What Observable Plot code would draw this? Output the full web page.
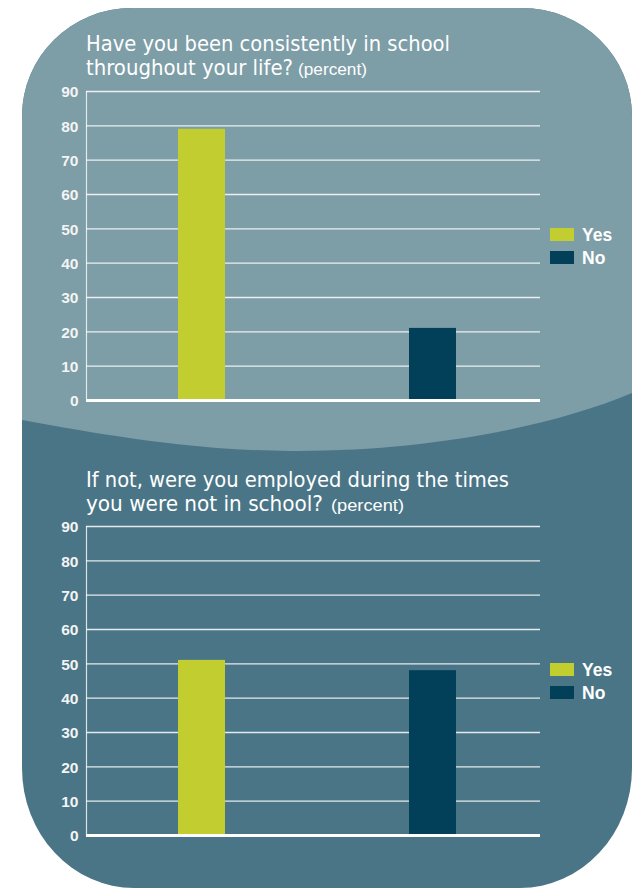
<!DOCTYPE html>
<html>
<head>
<meta charset="utf-8">
<script src="https://cdn.jsdelivr.net/npm/d3@7"></script>
<script src="https://cdn.jsdelivr.net/npm/@observablehq/plot@0.6"></script>
<style>
  html, body { margin: 0; padding: 0; background: #ffffff; }
  #wrap { position: relative; width: 639px; height: 890px; overflow: hidden; background: #ffffff; }
  #bg { position: absolute; left: 0; top: 0; }
  .chart { position: absolute; left: 0; }
  .chart svg { display: block; }
</style>
</head>
<body>
<div id="wrap">
  <svg id="bg" width="639" height="890"></svg>
  <div id="c1" class="chart" style="top:80px"></div>
  <div id="c2" class="chart" style="top:515px"></div>
</div>
<script>
// ---- data ----
const categories = ["Yes", "No"];
const categoryColors = ["#c2cd2f", "#023f58"];
const q1Values = [79, 21];
const q2Values = [51, 48];
const yTicks = [0, 10, 20, 30, 40, 50, 60, 70, 80, 90];
const q1TitleLines = ["Have you been consistently in school", "throughout your life?"];
const q2TitleLines = ["If not, were you employed during the times", "you were not in school?"];
const unitLabel = "(percent)";

const lightPanel = "#7d9da7";
const darkPanel = "#4a7586";

// ---- background panels, titles, legends ----
const bg = d3.select("#bg");
const defs = bg.append("defs");
defs.append("clipPath").attr("id", "shape")
  .append("rect").attr("x", 22).attr("y", 8).attr("width", 610).attr("height", 940).attr("rx", 110).attr("ry", 108);
defs.append("clipPath").attr("id", "bottom")
  .append("rect").attr("x", 22).attr("y", -200).attr("width", 610).attr("height", 1088).attr("rx", 112).attr("ry", 120);
const outer = bg.append("g").attr("clip-path", "url(#bottom)");
const inner = outer.append("g").attr("clip-path", "url(#shape)");
inner.append("rect").attr("x", 0).attr("y", 0).attr("width", 639).attr("height", 890).attr("fill", darkPanel);
inner.append("path")
  .attr("d", "M0,0 H639 V390 C560,425 430,452 290,451 C180,450 90,432 0,416 Z")
  .attr("fill", lightPanel);

const titleFont = "'Liberation Sans Narrow', 'DejaVu Sans Condensed', sans-serif";
function title(lines, x, y0, widths, pctX, pctW) {
  lines.forEach((line, i) => {
    bg.append("text").attr("x", x).attr("y", y0 + i * 23.5)
      .attr("fill", "#ffffff")
      .attr("font-family", titleFont)
      .attr("font-size", 21.5)
      .attr("textLength", widths[i]).attr("lengthAdjust", "spacingAndGlyphs")
      .text(line);
  });
  bg.append("text").attr("x", pctX).attr("y", y0 + 23.5)
    .attr("fill", "#ffffff")
    .attr("font-family", "'Liberation Sans Narrow', 'Liberation Sans', sans-serif")
    .attr("font-size", 16.5)
    .attr("textLength", pctW).attr("lengthAdjust", "spacingAndGlyphs")
    .text(unitLabel);
}
title(q1TitleLines, 86, 51, [364, 207], 298, 69);
title(q2TitleLines, 86, 487, [423, 237], 331, 73);

function legend(yTop) {
  categories.forEach((c, i) => {
    const y = yTop + i * 23;
    bg.append("rect").attr("x", 550).attr("y", y).attr("width", 24).attr("height", 13).attr("fill", categoryColors[i]);
    bg.append("text").attr("x", 582).attr("y", y + 13)
      .attr("fill", "#ffffff")
      .attr("font-family", "'Liberation Sans', Arial, sans-serif")
      .attr("font-weight", "bold")
      .attr("font-size", 17.5)
      .text(c);
  });
}
legend(228);
legend(663);

// ---- charts ----
function makeChart(values) {
  const data = categories.map((c, i) => ({answer: c, value: values[i]}));
  return Plot.plot({
    width: 639,
    height: 340,
    marginLeft: 86,
    marginRight: 99,
    marginTop: 11,
    marginBottom: 20,
    style: {background: "transparent", color: "#ffffff", fontFamily: "'Liberation Sans', Arial, sans-serif", fontSize: "15px", fontWeight: "bold", overflow: "visible"},
    x: {domain: categories, axis: null, paddingInner: 0.797, paddingOuter: 0.381, align: 0.522},
    y: {domain: [0, 90], axis: null},
    color: {domain: categories, range: categoryColors},
    marks: [
      Plot.gridY(yTicks, {stroke: "#ffffff", strokeOpacity: 0.85, strokeWidth: 1.3}),
      Plot.frame({anchor: "left", stroke: "#ffffff", strokeOpacity: 0.8, strokeWidth: 1.2}),
      Plot.barY(data, {x: "answer", y: "value", fill: "answer"}),
      Plot.ruleY([0], {stroke: "#ffffff", strokeWidth: 2.8}),
      Plot.axisY(yTicks, {label: null, tickSize: 0, tickPadding: 8, fill: "#f4f4f4", fontWeight: "bold", fontSize: 15, dy: 1})
    ]
  });
}
const chart1 = makeChart(q1Values);
const chart2 = makeChart(q2Values);
document.getElementById("c1").appendChild(chart1);
document.getElementById("c2").appendChild(chart2);
d3.selectAll(".chart svg text")
  .attr("font-size", 15.5)
  .attr("font-weight", "bold")
  .style("font-size", "15.5px")
  .style("font-weight", "bold")
  .style("font-family", "'Liberation Sans', Arial, sans-serif");
</script>
</body>
</html>
